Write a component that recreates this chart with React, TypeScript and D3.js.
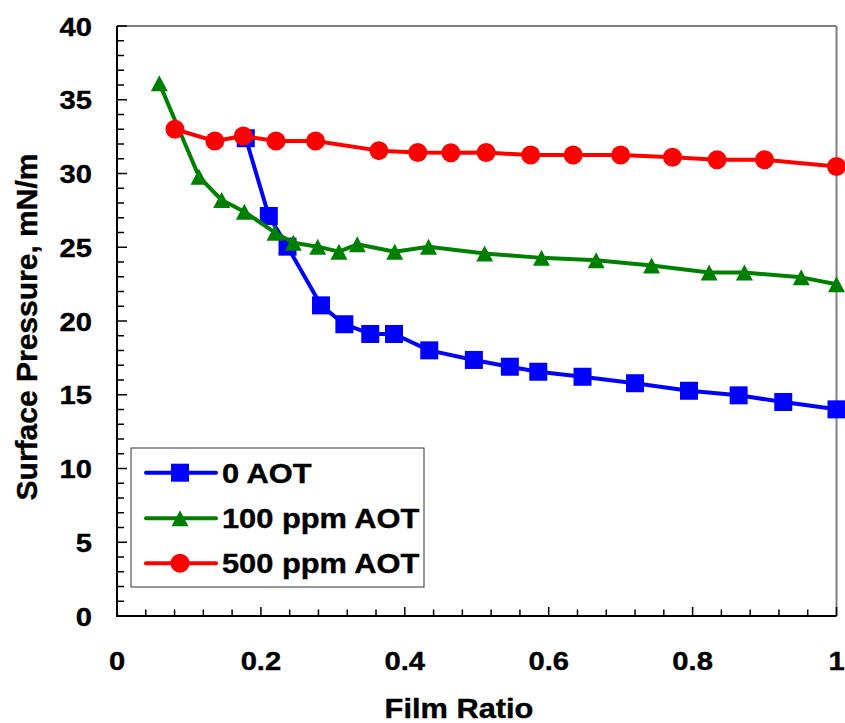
import React from 'react';
import * as d3 from 'd3';

// ---- data ----
const xTickValues = [0, 0.2, 0.4, 0.6, 0.8, 1];
const xTickLabels = ['0', '0.2', '0.4', '0.6', '0.8', '1'];
const yTickValues = [0, 5, 10, 15, 20, 25, 30, 35, 40];
const yTickLabels = ['0', '5', '10', '15', '20', '25', '30', '35', '40'];
const seriesNames = ['0 AOT', '100 ppm AOT', '500 ppm AOT'];

const aot0Ratio = [0.179, 0.211, 0.237, 0.2835, 0.316, 0.352, 0.385, 0.434, 0.496, 0.546, 0.5855, 0.647, 0.72, 0.795, 0.864, 0.926, 1.0];
const aot0Pressure = [32.39, 27.12, 25.04, 21.06, 19.78, 19.12, 19.12, 18.01, 17.36, 16.9, 16.56, 16.22, 15.78, 15.27, 14.96, 14.51, 14.01];

const aot100Ratio = [0.0588, 0.114, 0.1455, 0.177, 0.2196, 0.245, 0.279, 0.3085, 0.334, 0.386, 0.433, 0.511, 0.59, 0.666, 0.743, 0.823, 0.872, 0.951, 1.0];
const aot100Pressure = [36.12, 29.78, 28.2, 27.41, 25.99, 25.31, 25.04, 24.7, 25.2, 24.7, 25.04, 24.58, 24.28, 24.12, 23.76, 23.29, 23.29, 22.96, 22.49];

const aot500Ratio = [0.0806, 0.136, 0.1755, 0.221, 0.276, 0.364, 0.418, 0.464, 0.513, 0.575, 0.634, 0.7, 0.772, 0.834, 0.9, 1.0];
const aot500Pressure = [33.0, 32.2, 32.54, 32.2, 32.2, 31.55, 31.42, 31.41, 31.42, 31.25, 31.25, 31.25, 31.1, 30.93, 30.93, 30.48];

const seriesColors = ['#0000FF', '#008000', '#FF0000'];
const seriesShapes = ['square', 'triangle', 'circle'];

const FONT = "'Liberation Sans', Arial, sans-serif";

function Marker({ shape, cx, cy, color, size = 1 }: { shape: string; cx: number; cy: number; color: string; size?: number }) {
  if (shape === 'square') {
    const s = 18 * size;
    return <rect x={cx - s / 2} y={cy - s / 2} width={s} height={s} fill={color} />;
  }
  if (shape === 'circle') {
    return <circle cx={cx} cy={cy} r={9.5 * size} fill={color} />;
  }
  const h = 16 * size, w = 17 * size;
  return (
    <path
      d={`M${cx},${cy - h / 2}L${cx + w / 2},${cy + h / 2}L${cx - w / 2},${cy + h / 2}Z`}
      fill={color}
    />
  );
}

export default function App() {
  const W = 845, H = 723;
  const x = d3.scaleLinear().domain([0, 1]).range([117, 836.5]);
  const y = d3.scaleLinear().domain([0, 40]).range([616, 26]);

  const series = [
    { name: seriesNames[0], xs: aot0Ratio, ys: aot0Pressure },
    { name: seriesNames[1], xs: aot100Ratio, ys: aot100Pressure },
    { name: seriesNames[2], xs: aot500Ratio, ys: aot500Pressure },
  ];

  const line = d3
    .line<[number, number]>()
    .x((d) => x(d[0]))
    .y((d) => y(d[1]))
    .curve(d3.curveLinear);

  const xMinor = d3.range(0, 1.0001, 0.04);
  const yMinor = d3.range(0, 40.001, 1);

  const x0 = x(0), x1 = x(1), y0 = y(0), y1 = y(40);

  return (
    <svg width={W} height={H} style={{ position: 'absolute', left: 0, top: 0, background: '#fff' }} fontFamily={FONT}>
      <rect x={0} y={0} width={W} height={H} fill="#fff" />
      {/* frame top/right */}
      <line x1={x0} y1={y1} x2={x1} y2={y1} stroke="#808080" strokeWidth={2} />
      <line x1={x1} y1={y1} x2={x1} y2={y0} stroke="#808080" strokeWidth={2} />

      {/* y ticks */}
      {yMinor.map((v, i) => {
        const major = Math.abs(v % 5) < 1e-6;
        return <line key={'ym' + i} x1={x0} x2={x0 + (major ? 10 : 7)} y1={y(v)} y2={y(v)} stroke="#000" strokeWidth={1.5} />;
      })}
      {/* x ticks */}
      {xMinor.map((v, i) => {
        const major = i % 5 === 0;
        return <line key={'xm' + i} x1={x(v)} x2={x(v)} y1={y0} y2={y0 - (major ? 9 : 6.5)} stroke="#000" strokeWidth={1.5} />;
      })}

      {/* axes */}
      <line x1={x0} y1={y1} x2={x0} y2={y0 + 1} stroke="#000" strokeWidth={2} />
      <line x1={x0 - 1} y1={y0} x2={x1} y2={y0} stroke="#000" strokeWidth={2} />

      {/* y tick labels */}
      {yTickValues.map((v, i) => (
        <text
          key={'yl' + i}
          transform={`translate(92,${y(v) + 9.5}) scale(1.1,1)`}
          textAnchor="end"
          fontSize={26.5}
          fontWeight="bold"
          fill="#000"
          stroke="#000"
          strokeWidth={0.4}
        >
          {yTickLabels[i]}
        </text>
      ))}
      {/* x tick labels */}
      {xTickValues.map((v, i) => (
        <text
          key={'xl' + i}
          transform={`translate(${x(v)},670) scale(1.1,1)`}
          textAnchor="middle"
          fontSize={26.5}
          fontWeight="bold"
          fill="#000"
          stroke="#000"
          strokeWidth={0.4}
        >
          {xTickLabels[i]}
        </text>
      ))}

      {/* axis titles */}
      <text transform="translate(459,718) scale(1.12,1)" textAnchor="middle" fontSize={27.5} fontWeight="bold" fill="#000" stroke="#000" strokeWidth={0.4}>
        Film Ratio
      </text>
      <text transform="translate(37,327) rotate(-90)" textAnchor="middle" fontSize={30} fontWeight="bold" fill="#000" stroke="#000" strokeWidth={0.4}>
        Surface Pressure, mN/m
      </text>

      {/* series */}
      {series.map((s, si) => {
        const pts: [number, number][] = s.xs.map((xv, i) => [xv, s.ys[i]]);
        return (
          <g key={'s' + si}>
            <path d={line(pts) || ''} fill="none" stroke={seriesColors[si]} strokeWidth={4} strokeLinejoin="round" />
            {pts.map((p, i) => (
              <Marker key={i} shape={seriesShapes[si]} cx={x(p[0])} cy={y(p[1])} color={seriesColors[si]} />
            ))}
          </g>
        );
      })}

      {/* legend */}
      <rect x={131} y={448} width={293} height={139} fill="#fff" stroke="#333" strokeWidth={1} />
      {series.map((s, si) => {
        const ry = [472.7, 518.3, 563.3][si];
        return (
          <g key={'lg' + si}>
            <line x1={146} x2={216} y1={ry} y2={ry} stroke={seriesColors[si]} strokeWidth={4} strokeLinecap="round" />
            <Marker shape={seriesShapes[si]} cx={180} cy={ry} color={seriesColors[si]} />
            <text transform={`translate(222,${ry + 10}) scale(1.1,1)`} fontSize={28} fontWeight="bold" fill="#000" stroke="#000" strokeWidth={0.4}>
              {s.name}
            </text>
          </g>
        );
      })}
    </svg>
  );
}
